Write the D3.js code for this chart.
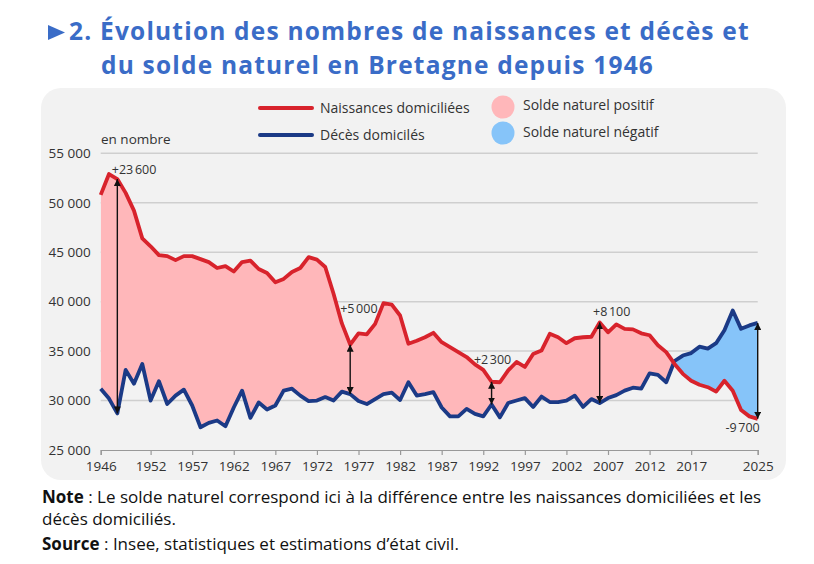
<!DOCTYPE html>
<html><head><meta charset="utf-8">
<script src="https://cdn.jsdelivr.net/npm/d3@7"></script>
<style>
html,body{margin:0;padding:0;background:#fff;}
svg{display:block;font-family:"Open Sans",sans-serif;}
</style></head>
<body>
<svg id="chart" width="814" height="564"></svg>
<script>
const years = d3.range(1946, 2026);
const births = [50800,52900,52400,51000,49200,46400,45600,44700,44600,44200,
44600,44600,44300,44000,43400,43600,43050,44000,44150,43300,
42900,41950,42300,43000,43400,44500,44250,43500,40800,37800,
35650,36800,36700,37750,39850,39700,38600,35750,36050,36400,
36850,35900,35400,34900,34400,33650,33100,31900,31850,33050,
33900,33400,34700,35050,36750,36400,35800,36300,36400,36450,
37900,36900,37700,37250,37200,36800,36600,35600,34900,33700,
32700,32000,31600,31350,30900,32000,31000,29050,28400,28150];
const deaths = [31200,30200,28700,33100,31700,33700,30000,31950,29650,30500,
31100,29500,27300,27750,27980,27400,29300,31000,28250,29800,
29100,29500,31000,31200,30500,29950,30000,30350,30000,30900,
30650,29950,29650,30150,30650,30800,30050,31850,30500,30650,
30850,29300,28400,28400,29150,28650,28400,29600,28300,29750,
30000,30250,29350,30400,29850,29850,30000,30500,29350,30150,
29750,30250,30550,31000,31300,31200,32750,32600,31850,34000,
34550,34800,35450,35250,35800,37100,39100,37250,37600,37850];
const xTickYears = [1946,1952,1957,1962,1967,1972,1977,1982,1987,1992,1997,2002,2007,2012,2017,2025];
const yTicks = [25000,30000,35000,40000,45000,50000,55000];
const annotYears = [1948,1976,1993,2006,2025];
const annotLabels = ["+23\u202F600","+5\u202F000","+2\u202F300","+8\u202F100","-9\u202F700"];
// label placement (style): anchor, dx, dy relative to the births point
const annotPlace = [
  {anchor:"start", dx:-5.5, dy:-5},
  {anchor:"start", dx:-10, dy:-32},
  {anchor:"middle", dx:1, dy:-18},
  {anchor:"middle", dx:12, dy:-6},
  {anchor:"end", dx:2, dy:13}
];

const data = years.map((y,i)=>({year:y, b:births[i], d:deaths[i]}));

const svg = d3.select("#chart");
const defs = svg.append("defs");

// Title
svg.append("path").attr("d","M48,25 L48,40 L65,32.5 Z").attr("fill","#3a6cc7");
svg.append("text").attr("fill","#3a6cc7").attr("font-weight",700).attr("font-size",24.5).attr("letter-spacing",1.2)
  .attr("x",69).attr("y",40).text("2. Évolution des nombres de naissances et décès et");
svg.append("text").attr("fill","#3a6cc7").attr("font-weight",700).attr("font-size",24.5).attr("letter-spacing",1.2)
  .attr("x",101).attr("y",73.5).text("du solde naturel en Bretagne depuis 1946");

// Panel
svg.append("rect").attr("x",41).attr("y",88).attr("width",745).attr("height",392).attr("rx",20).attr("fill","#f2f2f2");

const x = d3.scaleLinear().domain([1946,2025]).range([100.7,757.7]);
const y = d3.scaleLinear().domain([25000,55000]).range([450,153.3]);

// Gridlines
svg.append("g").selectAll("line").data(yTicks.slice(1)).join("line")
  .attr("x1",x(1946)).attr("x2",x(2025)).attr("y1",d=>y(d)).attr("y2",d=>y(d))
  .attr("stroke","#cfcfcf").attr("stroke-width",1.5);

// Y axis labels
const yAxis = d3.axisLeft(y).tickValues(yTicks).tickSize(0).tickPadding(10)
  .tickFormat(d=>d3.format(",")(d).replace(","," "));
const gy = svg.append("g").attr("transform",`translate(${x(1946)},0)`).call(yAxis);
gy.select(".domain").remove();
gy.selectAll("text").attr("font-size",13.5).attr("fill","#333").attr("font-family","'Open Sans', sans-serif");

// X axis
const xAxis = d3.axisBottom(x).tickValues(xTickYears).tickSize(5).tickPadding(6).tickFormat(d3.format("d"));
const gx = svg.append("g").attr("transform",`translate(0,${y(25000)})`).call(xAxis);
gx.select(".domain").attr("stroke","#999").attr("stroke-width",1.2);
gx.selectAll(".tick line").attr("stroke","#999").attr("stroke-width",1.2);
gx.selectAll("text").attr("font-size",13.5).attr("fill","#333").attr("font-family","'Open Sans', sans-serif");

// Difference areas
defs.append("clipPath").attr("id","clipAbove").append("path")
  .attr("d", d3.area().x(d=>x(d.year)).y0(0).y1(d=>y(d.d))(data));
defs.append("clipPath").attr("id","clipBelow").append("path")
  .attr("d", d3.area().x(d=>x(d.year)).y0(564).y1(d=>y(d.d))(data));
const between = d3.area().x(d=>x(d.year)).y0(d=>y(d.d)).y1(d=>y(d.b));
svg.append("path").attr("d",between(data)).attr("fill","#ffb7ba").attr("clip-path","url(#clipAbove)");
svg.append("path").attr("d",between(data)).attr("fill","#86c4f9").attr("clip-path","url(#clipBelow)");

// Lines
const lb = d3.line().x(d=>x(d.year)).y(d=>y(d.b));
const ld = d3.line().x(d=>x(d.year)).y(d=>y(d.d));
svg.append("path").attr("d",ld(data)).attr("fill","none").attr("stroke","#1b3a86").attr("stroke-width",3.8).attr("stroke-linejoin","round");
svg.append("path").attr("d",lb(data)).attr("fill","none").attr("stroke","#d8232c").attr("stroke-width",3.8).attr("stroke-linejoin","round");

// Arrows
defs.append("marker").attr("id","ah").attr("viewBox","0 0 10 10").attr("refX",10).attr("refY",5)
  .attr("markerWidth",7).attr("markerHeight",7).attr("markerUnits","userSpaceOnUse").attr("orient","auto-start-reverse")
  .append("path").attr("d","M0,0 L10,5 L0,10 Z").attr("fill","#111");
annotYears.forEach((yr,i)=>{
  const r = data.find(d=>d.year===yr);
  svg.append("line").attr("x1",x(yr)).attr("x2",x(yr)).attr("y1",y(r.b)).attr("y2",y(r.d))
    .attr("stroke","#111").attr("stroke-width",1.4)
    .attr("marker-start","url(#ah)").attr("marker-end","url(#ah)");
  const p = annotPlace[i];
  svg.append("text").attr("x",x(yr)+p.dx).attr("y",y(r.b)+p.dy).attr("text-anchor",p.anchor)
    .attr("font-size",12.5).attr("fill","#333").attr("letter-spacing",-0.3).text(annotLabels[i]);
});

// "en nombre"
svg.append("text").attr("x",101).attr("y",144).attr("font-size",13.5).attr("fill","#333").text("en nombre");

// Legend
const leg = svg.append("g").attr("font-size",14).attr("fill","#333");
leg.append("line").attr("x1",260).attr("x2",312).attr("y1",108).attr("y2",108).attr("stroke","#d8232c").attr("stroke-width",4).attr("stroke-linecap","round");
leg.append("line").attr("x1",260).attr("x2",312).attr("y1",135).attr("y2",135).attr("stroke","#1b3a86").attr("stroke-width",4).attr("stroke-linecap","round");
leg.append("text").attr("x",320).attr("y",113).text("Naissances domiciliées");
leg.append("text").attr("x",320).attr("y",140).text("Décès domicilés");
leg.append("circle").attr("cx",503).attr("cy",107).attr("r",11.5).attr("fill","#ffb7ba");
leg.append("circle").attr("cx",503).attr("cy",133).attr("r",11.5).attr("fill","#86c4f9");
leg.append("text").attr("x",523).attr("y",110).text("Solde naturel positif");
leg.append("text").attr("x",523).attr("y",137).text("Solde naturel négatif");

// Notes
const notes = svg.append("g").attr("font-size",17).attr("fill","#111");
const n1 = notes.append("text").attr("x",42).attr("y",503);
n1.append("tspan").attr("font-weight",700).text("Note");
n1.append("tspan").text(" : Le solde naturel correspond ici à la différence entre les naissances domiciliées et les");
notes.append("text").attr("x",42).attr("y",525).text("décès domiciliés.");
const n3 = notes.append("text").attr("x",42).attr("y",550);
n3.append("tspan").attr("font-weight",700).text("Source");
n3.append("tspan").text(" : Insee, statistiques et estimations d’état civil.");
</script>
</body></html>
